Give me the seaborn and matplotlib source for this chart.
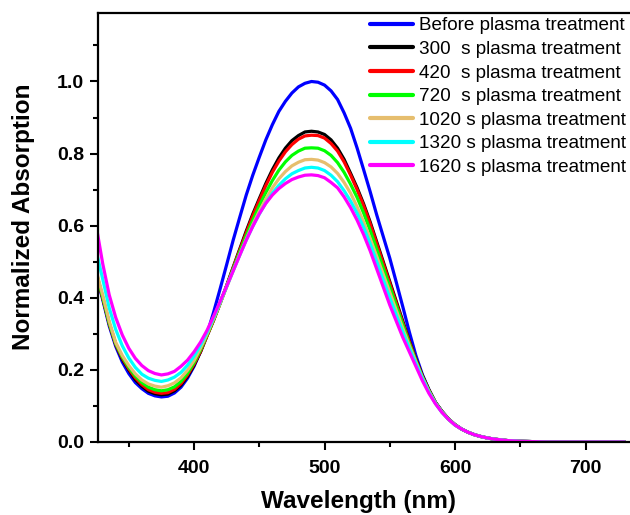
import numpy as np
import pandas as pd
import matplotlib
matplotlib.use('Agg')
import matplotlib.pyplot as plt
from matplotlib.ticker import MultipleLocator, FormatStrFormatter
import seaborn as sns

# ─── data ──────────────────────────────────────────────────────────────────
wavelength = [325, 330, 335, 340, 345, 350, 355, 360, 365, 370, 375, 380, 385, 390, 395, 400,
              405, 410, 415, 420, 425, 430, 435, 440, 445, 450, 455, 460, 465, 470, 475, 480, 485, 490, 495, 500,
              505, 510, 515, 520, 525, 530, 535, 540, 545, 550, 555, 560, 565, 570, 575, 580, 585, 590, 595, 600,
              605, 610, 615, 620, 625, 630, 635, 640, 645, 650,
              660, 670, 680, 690, 700, 710, 720, 730]

before = [0.465, 0.395, 0.322, 0.265, 0.222, 0.19, 0.165, 0.148, 0.135, 0.128, 0.125, 0.127, 0.136, 0.152, 0.177, 0.21,
          0.252, 0.30, 0.36, 0.425, 0.492, 0.56, 0.623, 0.685, 0.74, 0.79, 0.838, 0.88, 0.917, 0.945, 0.968, 0.985, 0.995, 1.0, 0.998, 0.99,
          0.974, 0.95, 0.913, 0.87, 0.815, 0.755, 0.694, 0.63, 0.57, 0.51, 0.443, 0.375, 0.305, 0.24, 0.187, 0.145, 0.11, 0.085, 0.064, 0.048,
          0.036, 0.027, 0.02, 0.015, 0.011, 0.008, 0.006, 0.004, 0.003, 0.002,
          0.001, 0, 0, 0, 0, 0, 0, 0]
s300 = [0.468, 0.40, 0.328, 0.27, 0.23, 0.2, 0.173, 0.155, 0.141, 0.134, 0.131, 0.133, 0.142, 0.158, 0.182, 0.213,
        0.25, 0.295, 0.338, 0.385, 0.434, 0.485, 0.535, 0.585, 0.632, 0.675, 0.717, 0.755, 0.788, 0.815, 0.836, 0.85, 0.86, 0.862, 0.86, 0.853,
        0.838, 0.815, 0.784, 0.745, 0.705, 0.66, 0.61, 0.555, 0.5, 0.445, 0.39, 0.335, 0.28, 0.23, 0.184, 0.145, 0.11, 0.085, 0.064, 0.048,
        0.036, 0.027, 0.02, 0.015, 0.011, 0.008, 0.006, 0.004, 0.003, 0.002,
        0.001, 0, 0, 0, 0, 0, 0, 0]
s420 = [0.468, 0.40, 0.328, 0.271, 0.233, 0.203, 0.178, 0.159, 0.145, 0.138, 0.135, 0.137, 0.146, 0.162, 0.186, 0.216,
        0.252, 0.295, 0.338, 0.385, 0.433, 0.483, 0.532, 0.58, 0.627, 0.67, 0.711, 0.748, 0.779, 0.805, 0.825, 0.84, 0.849, 0.851, 0.85, 0.843,
        0.828, 0.807, 0.777, 0.74, 0.7, 0.655, 0.605, 0.55, 0.495, 0.44, 0.385, 0.33, 0.278, 0.228, 0.182, 0.143, 0.109, 0.084, 0.064, 0.048,
        0.036, 0.027, 0.02, 0.015, 0.011, 0.008, 0.006, 0.004, 0.003, 0.002,
        0.001, 0, 0, 0, 0, 0, 0, 0]
s720 = [0.47, 0.402, 0.33, 0.273, 0.236, 0.207, 0.183, 0.165, 0.152, 0.145, 0.142, 0.145, 0.153, 0.168, 0.191, 0.22,
        0.256, 0.297, 0.34, 0.385, 0.432, 0.48, 0.527, 0.572, 0.615, 0.655, 0.692, 0.725, 0.754, 0.777, 0.795, 0.807, 0.815, 0.816, 0.815, 0.808,
        0.795, 0.775, 0.748, 0.715, 0.678, 0.635, 0.587, 0.535, 0.483, 0.43, 0.378, 0.325, 0.273, 0.225, 0.18, 0.142, 0.109, 0.084, 0.064, 0.048,
        0.036, 0.027, 0.02, 0.015, 0.011, 0.008, 0.006, 0.004, 0.003, 0.002,
        0.001, 0, 0, 0, 0, 0, 0, 0]
s1020 = [0.475, 0.408, 0.335, 0.276, 0.24, 0.212, 0.189, 0.172, 0.161, 0.155, 0.152, 0.156, 0.164, 0.178, 0.199, 0.226,
         0.261, 0.30, 0.342, 0.385, 0.43, 0.475, 0.52, 0.563, 0.603, 0.64, 0.674, 0.705, 0.73, 0.75, 0.766, 0.776, 0.783, 0.784, 0.782, 0.775,
         0.763, 0.745, 0.72, 0.69, 0.652, 0.61, 0.564, 0.515, 0.465, 0.415, 0.365, 0.315, 0.267, 0.222, 0.178, 0.14, 0.108, 0.083, 0.063, 0.047,
         0.036, 0.027, 0.02, 0.015, 0.011, 0.008, 0.006, 0.004, 0.003, 0.002,
         0.001, 0, 0, 0, 0, 0, 0, 0]
s1320 = [0.53, 0.452, 0.372, 0.312, 0.267, 0.233, 0.207, 0.188, 0.177, 0.171, 0.168, 0.172, 0.18, 0.193, 0.213, 0.238,
         0.269, 0.305, 0.345, 0.388, 0.431, 0.475, 0.518, 0.56, 0.598, 0.632, 0.663, 0.69, 0.712, 0.73, 0.744, 0.753, 0.76, 0.762, 0.76, 0.753,
         0.74, 0.722, 0.697, 0.668, 0.634, 0.595, 0.55, 0.50, 0.45, 0.40, 0.352, 0.305, 0.26, 0.218, 0.176, 0.138, 0.107, 0.082, 0.063, 0.047,
         0.036, 0.027, 0.02, 0.015, 0.011, 0.008, 0.006, 0.004, 0.003, 0.002,
         0.001, 0, 0, 0, 0, 0, 0, 0]
s1620 = [0.60, 0.495, 0.408, 0.345, 0.297, 0.26, 0.232, 0.212, 0.198, 0.19, 0.186, 0.189, 0.196, 0.21, 0.227, 0.25,
         0.277, 0.31, 0.349, 0.39, 0.432, 0.475, 0.518, 0.56, 0.598, 0.633, 0.662, 0.685, 0.703, 0.717, 0.728, 0.735, 0.74, 0.741, 0.739, 0.733,
         0.72, 0.705, 0.68, 0.65, 0.615, 0.575, 0.53, 0.48, 0.43, 0.38, 0.335, 0.29, 0.25, 0.21, 0.17, 0.135, 0.106, 0.082, 0.063, 0.047,
         0.036, 0.027, 0.02, 0.015, 0.011, 0.008, 0.006, 0.004, 0.003, 0.002,
         0.001, 0, 0, 0, 0, 0, 0, 0]

labels = ['Before plasma treatment', '300  s plasma treatment', '420  s plasma treatment',
          '720  s plasma treatment', '1020 s plasma treatment', '1320 s plasma treatment',
          '1620 s plasma treatment']
colors = ['#0000FF', '#000000', '#FF0000', '#00FF00', '#E6BE6E', '#00FFFF', '#FF00FF']
series = [before, s300, s420, s720, s1020, s1320, s1620]

df = pd.concat([pd.DataFrame({'wl': wavelength, 'val': s, 'name': lab})
                for s, lab in zip(series, labels)], ignore_index=True)

# ─── plot ──────────────────────────────────────────────────────────────────
sns.set_style('ticks')
plt.rcParams['font.family'] = ['Liberation Sans', 'DejaVu Sans']
plt.rcParams['text.color'] = 'black'
plt.rcParams['axes.labelcolor'] = 'black'

fig = plt.figure(figsize=(6.3, 5.15), dpi=100)
ax = fig.add_axes([98 / 630, 73 / 515, 532 / 630, 429 / 515])

sns.lineplot(data=df, x='wl', y='val', hue='name', hue_order=labels,
             palette=colors, linewidth=2.3, errorbar=None, ax=ax)

ax.set_xlim(326.4, 734.1)
ax.set_ylim(0, 1.19)
ax.xaxis.set_major_locator(MultipleLocator(100))
ax.xaxis.set_minor_locator(MultipleLocator(50))
ax.yaxis.set_major_locator(MultipleLocator(0.2))
ax.yaxis.set_minor_locator(MultipleLocator(0.1))
ax.yaxis.set_major_formatter(FormatStrFormatter('%.1f'))

for sp in ['left', 'bottom', 'top']:
    ax.spines[sp].set_linewidth(1.6)
    ax.spines[sp].set_color('black')
ax.spines['right'].set_visible(False)
ax.tick_params(which='major', direction='out', length=6, width=1.5, labelsize=14,
               colors='black', pad=4)
ax.tick_params(axis='x', which='major', pad=7)
ax.tick_params(which='minor', direction='out', length=3.5, width=1.5, colors='black')
for t in ax.get_xticklabels() + ax.get_yticklabels():
    t.set_fontweight('bold')

ax.set_xlabel('Wavelength (nm)', fontsize=17.5, fontweight='bold')
ax.set_ylabel('Normalized Absorption', fontsize=17.5, fontweight='bold')
ax.xaxis.set_label_coords(0.49, -0.112)
ax.yaxis.set_label_coords(-0.118, 0.526)

ax.legend(frameon=False, loc='upper left', bbox_to_anchor=(370 / 630, 1 - 17 / 515),
          bbox_transform=fig.transFigure, fontsize=13.6, handlelength=2.3,
          handletextpad=0.27, labelspacing=0.34, borderpad=0, borderaxespad=0)
for line in ax.get_legend().get_lines():
    line.set_linewidth(3)

plt.savefig('out.png', dpi=100, facecolor='white')
plt.close()
